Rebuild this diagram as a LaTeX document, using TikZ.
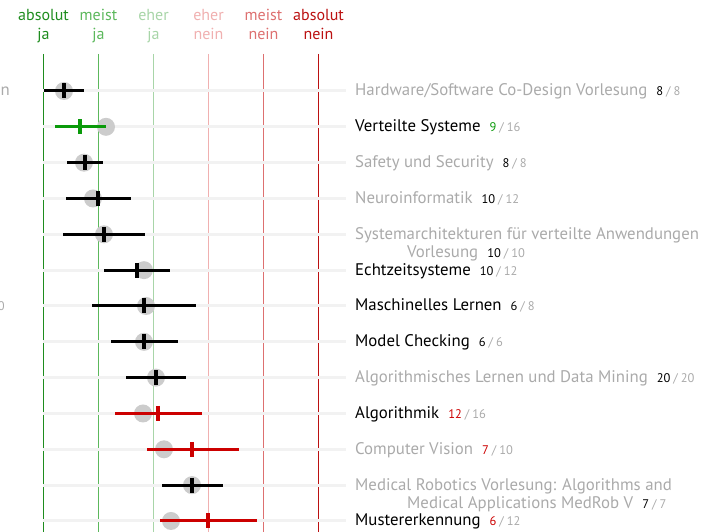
\documentclass[tikz,border=0pt]{standalone}
\usepackage{fontspec}
\setmainfont{PT Sans}

\definecolor{jaA}{HTML}{1E8C1E}
\definecolor{jaM}{HTML}{5CB85C}
\definecolor{jaE}{HTML}{A8D5A8}
\definecolor{neinE}{HTML}{F0B0B0}
\definecolor{neinM}{HTML}{DD7070}
\definecolor{neinA}{HTML}{BB1111}
\definecolor{rowgray}{HTML}{F2F2F2}
\definecolor{ballgray}{HTML}{CCCCCC}
\definecolor{labgray}{HTML}{AAAAAA}
\definecolor{votegreen}{HTML}{0A9A0A}
\definecolor{votered}{HTML}{CC0000}

% count next to a label: own votes / all votes
\newcommand{\votecount}[3]{{\fontsize{12.5}{14}\selectfont\textcolor{#1}{#2}\textcolor{labgray}{\hspace{3pt}/\hspace{3pt}#3}}}

\begin{document}
\begin{tikzpicture}[x=1pt,y=-1pt,
  rowline/.style={line width=3pt,rowgray},
  bar/.style={line width=3pt},
  tick/.style={line width=4pt},
  ball/.style={fill=ballgray},
  lab/.style={anchor=base west,inner sep=0pt,align=left,font=\fontsize{16.8}{18}\selectfont},
  head/.style={anchor=base,inner sep=0pt,align=center,font=\fontsize{16}{19}\selectfont}]
\useasboundingbox (0,0) rectangle (716,532);
\clip (0,0) rectangle (716,532);

% cut-off texts at the left edge
\node[lab,anchor=base east,text=labgray] (cutA) at (10,96) {n};
\node[lab,anchor=base east,text=labgray,font=\fontsize{12.5}{14}\selectfont] (cutB) at (5,310) {0};

% scale
\foreach \x/\c/\t [count=\i] in {43.5/jaA/{absolut\\ja}, 98.5/jaM/{meist\\ja}, 153.5/jaE/{eher\\ja},
    208.5/neinE/{eher\\nein}, 263.5/neinM/{meist\\nein}, 318.5/neinA/{absolut\\nein}}{
  \draw[\c,line width=1pt] (\x,54) -- (\x,532);
  \node[head,text=\c] (head\i) at (\x,40) {\t};
}

% rows: low/high/mean/ball/colour/label colour/extra lines/label/votes/total
\foreach \lo/\hi/\m/\b/\c/\lc/\dy/\t/\n/\tot [count=\i] in {
  44/84/64/64/black/labgray/0/{Hardware/Software Co-Design Vorlesung}/8/8,
  55/106/80/106/votegreen/black/0/{Verteilte Systeme}/9/16,
  67/103/85/84/black/labgray/0/{Safety und Security}/8/8,
  66/131/97.5/93/black/labgray/0/{Neuroinformatik}/10/12,
  63/145/104/104/black/labgray/18/{Systemarchitekturen für verteilte Anwendungen\\\hspace*{52pt}Vorlesung}/10/10,
  104/170/137/144/black/black/0/{Echtzeitsysteme}/10/12,
  92/196/144/146/black/black/0/{Maschinelles Lernen}/6/8,
  111/178/144/144/black/black/0/{Model Checking}/6/6,
  126/186/156/156/black/labgray/0/{Algorithmisches Lernen und Data Mining}/20/20,
  115/202/158/143/votered/black/0/{Algorithmik}/12/16,
  147/239/192/164/votered/labgray/0/{Computer Vision}/7/10,
  162/223/192/192/black/labgray/18/{Medical Robotics Vorlesung: Algorithms and\\\hspace*{52pt}Medical Applications MedRob V}/7/7,
  160/257/208/171/votered/black/0/{Mustererkennung}/6/12}{
  \pgfmathsetmacro\y{91+35.83*(\i-1)}
  \draw[rowline] (43,\y) -- (346,\y);
  \fill[ball] (\b,\y) circle (9);
  \draw[bar,\c] (\lo,\y) -- (\hi,\y);
  \draw[tick,\c] (\m,\y-7.5) -- (\m,\y+7.5);
  \node[lab,text=\lc] (lab\i) at (355,\y+5+\dy) {\t\hspace{9pt}\votecount{\c}{\n}{\tot}};
}
\end{tikzpicture}
\end{document}
